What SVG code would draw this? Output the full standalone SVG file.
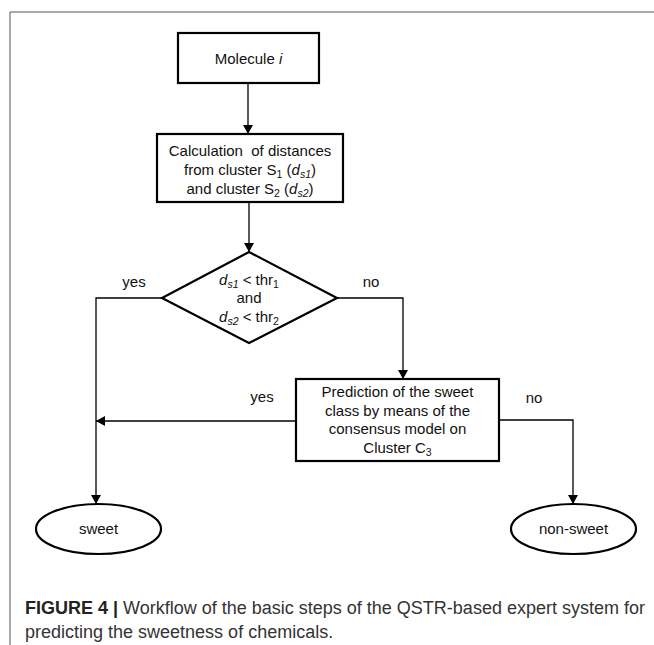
<svg xmlns="http://www.w3.org/2000/svg" width="654" height="645" viewBox="0 0 654 645">
<defs>
<style>
.box{fill:#fff;stroke:#000;stroke-width:2.2}
.edge{fill:none;stroke:#000;stroke-width:1.3}
.t{font-family:"Liberation Sans",Arial,sans-serif;font-size:15px;fill:#111;text-anchor:middle}
.sub{font-size:10.5px}
.cap{font-family:"Liberation Sans",Arial,sans-serif;font-size:18px;fill:#333}
</style>
<marker id="arr" markerUnits="userSpaceOnUse" markerWidth="10" markerHeight="10" refX="9" refY="5" orient="auto">
<path d="M0,0 L9,5 L0,10 Z" fill="#000"/>
</marker>
</defs>
<rect width="654" height="645" fill="#fff"/>
<path d="M10,645 V12 H654" fill="none" stroke="#555" stroke-width="1"/>

<g id="connectors">
<path class="edge" d="M248,83 V134" marker-end="url(#arr)"/>
<path class="edge" d="M249,202 V252" marker-end="url(#arr)"/>
<path class="edge" d="M162,298 H96 V504" marker-end="url(#arr)"/>
<path class="edge" d="M337,298 H403 V379" marker-end="url(#arr)"/>
<path class="edge" d="M296,421 H96" marker-end="url(#arr)"/>
<path class="edge" d="M499,420 H573 V504" marker-end="url(#arr)"/>
<text class="t" x="134" y="287">yes</text>
<text class="t" x="371" y="287">no</text>
<text class="t" x="262" y="402">yes</text>
<text class="t" x="534" y="403">no</text>
</g>

<g id="molecule">
<rect class="box" x="178" y="33" width="141" height="50"/>
<text class="t" x="248.5" y="64">Molecule <tspan font-style="italic">i</tspan></text>
</g>

<g id="calculation">
<rect class="box" x="157" y="134" width="186" height="68"/>
<text class="t" x="250" y="156" xml:space="preserve">Calculation  of distances</text>
<text class="t" x="250" y="175">from cluster S<tspan class="sub" dy="3">1</tspan><tspan dy="-3"> (</tspan><tspan font-style="italic">d</tspan><tspan class="sub" font-style="italic" dy="3">s1</tspan><tspan dy="-3">)</tspan></text>
<text class="t" x="250" y="194">and cluster S<tspan class="sub" dy="3">2</tspan><tspan dy="-3"> (</tspan><tspan font-style="italic">d</tspan><tspan class="sub" font-style="italic" dy="3">s2</tspan><tspan dy="-3">)</tspan></text>
</g>

<g id="decision">
<polygon class="box" points="249,252 337,298 249,343 162,298"/>
<text class="t" x="249" y="285"><tspan font-style="italic">d</tspan><tspan class="sub" font-style="italic" dy="3">s1</tspan><tspan dy="-3"> &lt; thr</tspan><tspan class="sub" dy="3">1</tspan></text>
<text class="t" x="249" y="303">and</text>
<text class="t" x="249" y="322"><tspan font-style="italic">d</tspan><tspan class="sub" font-style="italic" dy="3">s2</tspan><tspan dy="-3"> &lt; thr</tspan><tspan class="sub" dy="3">2</tspan></text>
</g>

<g id="prediction">
<rect class="box" x="296" y="379" width="203" height="82"/>
<text class="t" x="397.5" y="397">Prediction of the sweet</text>
<text class="t" x="397.5" y="416">class by means of the</text>
<text class="t" x="397.5" y="434">consensus model on</text>
<text class="t" x="397.5" y="453">Cluster C<tspan class="sub" dy="3">3</tspan></text>
</g>

<g id="sweet">
<ellipse class="box" cx="98.5" cy="529" rx="62.5" ry="25"/>
<text class="t" x="98.5" y="534">sweet</text>
</g>

<g id="nonsweet">
<ellipse class="box" cx="573.5" cy="529" rx="62.5" ry="25"/>
<text class="t" x="573.5" y="534">non-sweet</text>
</g>

<g id="caption">
<text class="cap" x="25" y="614"><tspan font-weight="bold" fill="#222">FIGURE 4 |</tspan> Workflow of the basic steps of the QSTR-based expert system for</text>
<text class="cap" x="25" y="638">predicting the sweetness of chemicals.</text>
</g>
</svg>
